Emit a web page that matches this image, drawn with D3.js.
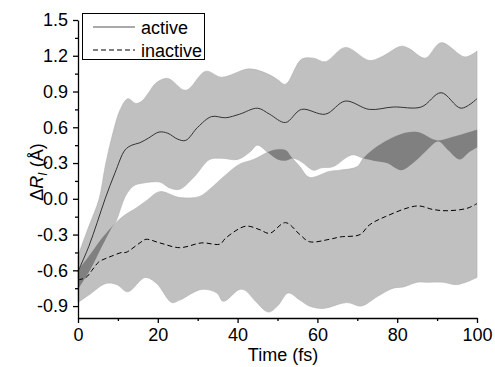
<!DOCTYPE html>
<html><head><meta charset="utf-8">
<script src="https://cdn.jsdelivr.net/npm/d3@7"></script>
<style>
body{margin:0;background:#fff;}
text{font-family:"Liberation Sans",Arial,sans-serif;}
</style></head>
<body><svg id="c" width="495" height="367"></svg>
<script>
// ---- data (time in fs, value in Å) ----
const activeUpperT = [0,2.5,5.3,6.8,8.5,10.6,12.5,14.5,16,17.7,19.5,22.5,27,32,36,43,48,50,52,56,59,62,67,73,76,81,83,87,91,97,100];
const activeUpper  = [-0.48,-0.25,0.0,0.27,0.52,0.75,0.84,0.80,0.82,0.89,0.97,1.01,0.91,1.07,1.02,1.09,1.04,1.00,0.96,1.17,1.18,1.15,1.27,1.16,1.19,1.28,1.26,1.18,1.31,1.19,1.24];

const activeLowerT = [0,3,6,8.5,9.5,12,14,16,20.5,23,25.5,29,33,36,40,43,45,47.5,50,52,54,56,59,61,64,67.4,69,71.5,74,77.4,81,84,87.5,90.3,92.7,95.7,98,100];
const activeLower  = [-0.76,-0.6,-0.4,-0.24,-0.19,0.03,0.11,0.13,0.14,0.09,0.08,0.18,0.33,0.34,0.33,0.39,0.45,0.39,0.33,0.32,0.34,0.31,0.24,0.26,0.27,0.35,0.37,0.34,0.32,0.30,0.24,0.30,0.41,0.48,0.41,0.33,0.39,0.43];

const activeMeanT = [0,2.7,4.8,6.8,9.3,11.8,13.5,15.5,17.7,20.3,22.5,25,27,30,33.5,37,40.5,45,48,52,56,62,67,73,79,86,91,96,100];
const activeMean  = [-0.61,-0.40,-0.2,0.0,0.22,0.41,0.45,0.47,0.51,0.56,0.55,0.50,0.49,0.60,0.69,0.68,0.71,0.76,0.71,0.64,0.75,0.71,0.82,0.75,0.77,0.77,0.89,0.76,0.84];

const inactiveUpperT = [0,3,6,9.5,12,14,17,20.5,25.5,30.5,33,37,40.5,44,47.5,49,52,53.5,55.6,58,63,65.7,70,71.5,75,80.7,85,90,94,100];
const inactiveUpper  = [-0.6,-0.47,-0.33,-0.2,-0.13,-0.09,-0.02,0.06,0.01,0.02,0.08,0.20,0.29,0.33,0.39,0.41,0.41,0.35,0.27,0.18,0.23,0.24,0.27,0.34,0.44,0.54,0.56,0.49,0.52,0.58];

const inactiveLowerT = [0,3,7,9.7,12.5,16.8,19.7,23.5,25.5,31,34.8,36.4,40.5,42,44.5,47.7,50,52.7,55.6,58,61.5,67.4,71,75,79,81.5,85,88,91.5,95,100];
const inactiveLower  = [-0.87,-0.80,-0.71,-0.72,-0.78,-0.66,-0.71,-0.87,-0.85,-0.76,-0.79,-0.86,-0.76,-0.77,-0.86,-0.95,-0.90,-0.79,-0.85,-0.90,-0.92,-0.87,-0.90,-0.82,-0.75,-0.74,-0.70,-0.70,-0.70,-0.72,-0.66];

const inactiveMeanT = [0,2,3.5,5.2,7,8.5,11,12,15.5,17,20.5,25.5,31,35.6,37,42,45.6,48,52,55.6,58,63,65.7,70.7,73,77,85,89,92.5,97.5,100];
const inactiveMean  = [-0.68,-0.66,-0.6,-0.53,-0.5,-0.48,-0.45,-0.45,-0.37,-0.34,-0.37,-0.41,-0.37,-0.38,-0.33,-0.23,-0.26,-0.29,-0.20,-0.30,-0.36,-0.34,-0.32,-0.30,-0.22,-0.15,-0.06,-0.09,-0.10,-0.08,-0.04];

const xTicks = [0,20,40,60,80,100];
const xTickLabels = ["0","20","40","60","80","100"];
const xMinor = [10,30,50,70,90];
const yTicks = [-0.9,-0.6,-0.3,0.0,0.3,0.6,0.9,1.2,1.5];
const yTickLabels = ["-0.9","-0.6","-0.3","0.0","0.3","0.6","0.9","1.2","1.5"];
const yMinor = [-0.75,-0.45,-0.15,0.15,0.45,0.75,1.05,1.35];
const seriesNames = ["active","inactive"];

// ---- drawing ----
const svg = d3.select("#c");
const x = d3.scaleLinear([0,100],[78,477]);
const y = d3.scaleLinear([-1.0,1.5],[318,20]);
const pts = (T,V) => T.map((t,i)=>[x(t),y(V[i])]);
const line = d3.line().curve(d3.curveCatmullRom.alpha(0.5));
function band(UT,U,LT,L){
  const up = line(pts(UT,U));
  const lo = line(pts(LT,L).reverse());
  return up + lo.replace(/^M/,"L") + "Z";
}
const activeBand = band(activeUpperT,activeUpper,activeLowerT,activeLower);
const inactiveBand = band(inactiveUpperT,inactiveUpper,inactiveLowerT,inactiveLower);

const defs = svg.append("defs");
defs.append("clipPath").attr("id","actClip").append("path").attr("d",activeBand);

svg.append("path").attr("d",activeBand).attr("fill","#c0c0c0").attr("stroke","#b0b0b0").attr("stroke-width",0.6);
svg.append("path").attr("d",inactiveBand).attr("fill","#c0c0c0").attr("stroke","#b0b0b0").attr("stroke-width",0.6);
svg.append("path").attr("d",inactiveBand).attr("fill","#808080").attr("clip-path","url(#actClip)");

svg.append("path").attr("d",line(pts(activeMeanT,activeMean))).attr("fill","none").attr("stroke","#333").attr("stroke-width",1);
svg.append("path").attr("d",line(pts(inactiveMeanT,inactiveMean))).attr("fill","none").attr("stroke","#000").attr("stroke-width",1).attr("stroke-dasharray","5,3");

// axes
const xa = svg.append("g").attr("transform","translate(0,318)")
  .call(d3.axisBottom(x).tickValues(xTicks).tickFormat((d,i)=>xTickLabels[i]).tickSize(5).tickPadding(5).tickSizeOuter(0));
svg.append("g").attr("transform","translate(0,318)")
  .call(d3.axisBottom(x).tickValues(xMinor).tickFormat("").tickSize(3).tickSizeOuter(0))
  .select(".domain").remove();
const ya = svg.append("g").attr("transform","translate(78,0)")
  .call(d3.axisLeft(y).tickValues(yTicks).tickFormat((d,i)=>yTickLabels[i]).tickSize(5).tickPadding(5).tickSizeOuter(0));
svg.append("g").attr("transform","translate(78,0)")
  .call(d3.axisLeft(y).tickValues(yMinor).tickFormat("").tickSize(3).tickSizeOuter(0))
  .select(".domain").remove();
svg.selectAll(".tick text").attr("font-size",18).attr("fill","#000").style("font-family","'Liberation Sans',Arial,sans-serif");
svg.selectAll(".domain,.tick line").attr("stroke","#000").attr("stroke-width",1.3);

// axis titles
svg.append("text").attr("x",283).attr("y",361).attr("text-anchor","middle").attr("font-size",18).text("Time (fs)");
const yl = svg.append("text").attr("transform","translate(43,172) rotate(-90)").attr("text-anchor","middle").attr("font-size",18);
yl.append("tspan").text("Δ");
yl.append("tspan").attr("font-style","italic").text("R");
yl.append("tspan").attr("font-style","italic").attr("font-size",12).attr("dy",4).text("I");
yl.append("tspan").attr("dy",-4).text(" (Å)");

// legend
svg.append("rect").attr("x",82.5).attr("y",13.5).attr("width",122).attr("height",46).attr("fill","#fff").attr("stroke","#000").attr("stroke-width",1);
const lg = [{y:27,dash:null,col:"#555"},{y:50,dash:"5,3",col:"#000"}];
lg.forEach((d,i)=>{
  svg.append("line").attr("x1",93).attr("x2",135).attr("y1",d.y).attr("y2",d.y).attr("stroke",d.col).attr("stroke-width",1).attr("stroke-dasharray",d.dash);
  svg.append("text").attr("x",141).attr("y",d.y+7).attr("font-size",18).text(seriesNames[i]);
});
</script></body></html>
